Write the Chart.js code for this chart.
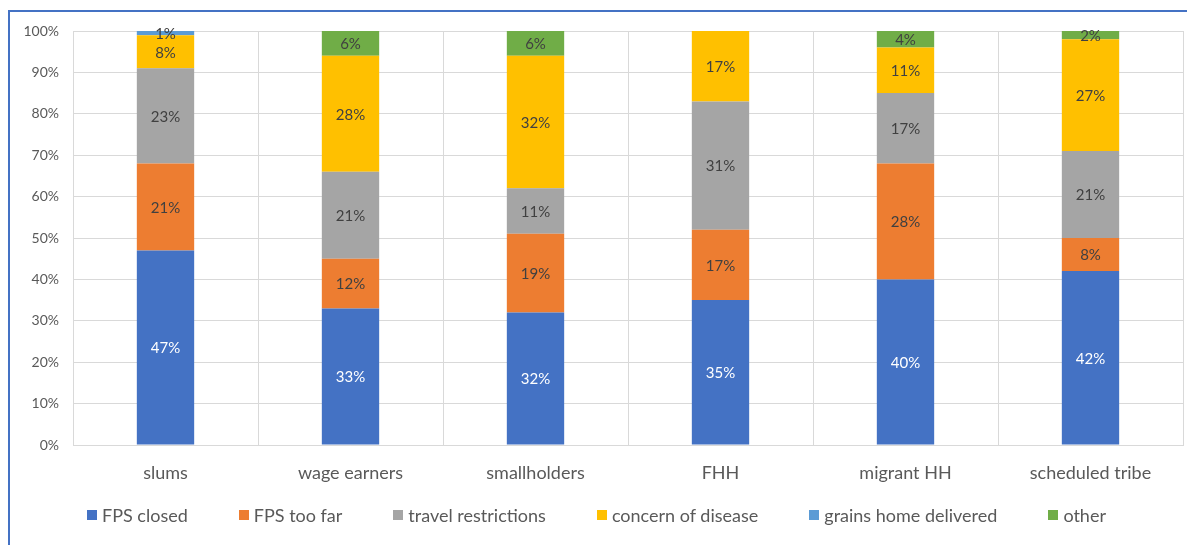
<!DOCTYPE html>
<html>
<head>
<meta charset="utf-8">
<script src="https://cdn.jsdelivr.net/npm/chart.js@4"></script>
<style>
    body { margin: 0; background: #fff; font-family: Lato, "Open Sans", sans-serif; }
    #wrap { position: relative; width: 1187px; height: 545px; overflow: hidden; }
    #frame { position: absolute; left: 8px; top: 10px; width: 1300px; height: 700px;
             border-left: 2px solid #4472C4; border-top: 2px solid #4472C4; }
    #chartBox { position: absolute; left: 0; top: 0; width: 1187px; height: 545px; }
    #legend { position: absolute; left: 87px; top: 503px; display: flex; gap: 51px;
              font-size: 18px; color: #595959; line-height: 24px; }
    .lg-item { display: flex; align-items: center; white-space: nowrap; }
    .lg-box { width: 10px; height: 10px; margin-right: 5px; }
</style>
</head>
<body>
<div id="wrap">
    <div id="frame"></div>
    <div id="chartBox"><canvas id="reasonChart"></canvas></div>
    <div id="legend"></div>
</div>
<script>
// ------------------- Data -------------------
const categories = ['slums', 'wage earners', 'smallholders', 'FHH', 'migrant HH', 'scheduled tribe'];

const fpsClosed = [47, 33, 32, 35, 40, 42];
const fpsTooFar = [21, 12, 19, 17, 28, 8];
const travelRestrictions = [23, 21, 11, 31, 17, 21];
const concernOfDisease = [8, 28, 32, 17, 11, 27];
const grainsHomeDelivered = [1, 0, 0, 0, 0, 0];
const other = [0, 6, 6, 0, 4, 2];

const yTicks = [0, 10, 20, 30, 40, 50, 60, 70, 80, 90, 100];

const seriesNames = ['FPS closed', 'FPS too far', 'travel restrictions', 'concern of disease', 'grains home delivered', 'other'];
const seriesData = [fpsClosed, fpsTooFar, travelRestrictions, concernOfDisease, grainsHomeDelivered, other];
const seriesColors = ['#4472C4', '#ED7D31', '#A5A5A5', '#FFC000', '#5B9BD5', '#70AD47'];
const labelColors = ['#FFFFFF', '#404040', '#404040', '#404040', '#404040', '#404040'];

// ------------------- Segment labels -------------------
const segmentLabels = {
    id: 'segmentLabels',
    afterDatasetsDraw(chart) {
        const ctx = chart.ctx;
        ctx.save();
        ctx.font = '15px Lato, "Open Sans", sans-serif';
        ctx.textAlign = 'center';
        ctx.textBaseline = 'middle';
        chart.data.datasets.forEach((ds, i) => {
            const meta = chart.getDatasetMeta(i);
            meta.data.forEach((bar, j) => {
                const v = ds.data[j];
                if (!v) return;
                const p = bar.getProps(['x', 'y', 'base'], true);
                ctx.fillStyle = labelColors[i];
                ctx.fillText(v + '%', p.x, (p.y + p.base) / 2 + 1);
            });
        });
        ctx.restore();
    }
};

// ------------------- Chart -------------------
const reasonChart = new Chart(document.getElementById('reasonChart').getContext('2d'), {
    type: 'bar',
    data: {
        labels: categories,
        datasets: seriesNames.map((name, i) => ({
            label: name,
            data: seriesData[i],
            backgroundColor: seriesColors[i],
            borderWidth: 0,
            barPercentage: 0.31,
            categoryPercentage: 1
        }))
    },
    options: {
        responsive: true,
        maintainAspectRatio: false,
        animation: false,
        layout: { padding: { left: 0, right: 4, top: 31, bottom: 60 } },
        plugins: {
            legend: { display: false },
            tooltip: { enabled: false }
        },
        scales: {
            x: {
                stacked: true,
                grid: { color: '#D9D9D9', drawTicks: false, offset: true },
                border: { color: '#D9D9D9' },
                ticks: { color: '#595959', padding: 17, font: { family: 'Lato', size: 18 } },
                afterFit(scale) { scale.height = 40; }
            },
            y: {
                stacked: true,
                min: 0,
                max: 100,
                afterBuildTicks(scale) { scale.ticks = yTicks.map(v => ({ value: v })); },
                grid: { color: '#D9D9D9', drawTicks: false },
                border: { display: false },
                ticks: {
                    color: '#595959',
                    padding: 14,
                    font: { family: 'Lato', size: 14 },
                    callback: v => v + '%'
                },
                afterFit(scale) { scale.width = 73; }
            }
        }
    },
    plugins: [segmentLabels]
});

// ------------------- Legend -------------------
const legendEl = document.getElementById('legend');
reasonChart.data.datasets.forEach(ds => {
    const item = document.createElement('div');
    item.className = 'lg-item';
    item.innerHTML = `<span class="lg-box" style="background:${ds.backgroundColor}"></span><span>${ds.label}</span>`;
    legendEl.appendChild(item);
});
</script>
</body>
</html>
